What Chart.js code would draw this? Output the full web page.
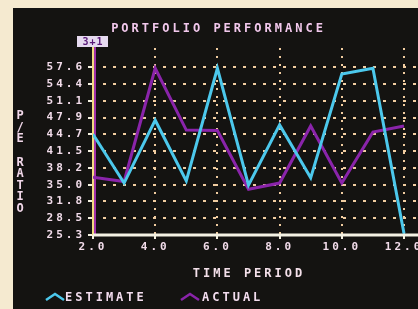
<!DOCTYPE html>
<html><head><meta charset="utf-8">
<script src="https://cdn.jsdelivr.net/npm/chart.js@4"></script>
<style>html,body{margin:0;padding:0;background:#f5ead0;overflow:hidden}canvas{display:block}</style>
</head><body><canvas id="c" width="418" height="309"></canvas>
<script>
const periods = [2, 3, 4, 5, 6, 7, 8, 9, 10, 11, 12];
const estimate = [44.7, 35.3, 47.4, 35.7, 57.4, 34.9, 46.5, 36.3, 56.3, 57.4, 25.6];
const actual = [36.4, 35.6, 57.4, 45.5, 45.4, 34.1, 35.3, 46.3, 35.3, 45.1, 46.3];
const xTickValues = [2, 4, 6, 8, 10, 12];
const xTickLabels = ['2.0', '4.0', '6.0', '8.0', '10.0', '12.0'];
const yTickValues = [25.3, 28.53, 31.76, 34.99, 38.22, 41.45, 44.68, 47.91, 51.14, 54.37, 57.6];
const yTickLabels = ['25.3', '28.5', '31.8', '35.0', '38.2', '41.5', '44.7', '47.9', '51.1', '54.4', '57.6'];
const seriesNames = ['ESTIMATE', 'ACTUAL'];
const seriesColors = ['#4cc8ec', '#8a24aa'];
const chartTitle = 'PORTFOLIO PERFORMANCE';
const xTitle = 'TIME PERIOD';
const yTitle = 'P/E RATIO';
const cursorLabel = '3+1';

const FONT = 'DejaVu Sans Mono';
Chart.defaults.font.family = FONT;
Chart.defaults.font.weight = 'bold';

const screenPlugin = {
  id: 'screen',
  beforeDraw(chart) {
    const ctx = chart.ctx;
    ctx.save();
    ctx.fillStyle = '#f5ead0';
    ctx.fillRect(0, 0, chart.width, chart.height);
    ctx.fillStyle = '#141311';
    ctx.fillRect(13, 8, chart.width - 13, chart.height - 8);
    ctx.restore();
    ctx.letterSpacing = '3px';
  },
  beforeDatasetsDraw(chart) {
    const ctx = chart.ctx;
    const a = chart.chartArea;
    ctx.save();
    ctx.lineWidth = 2;
    ctx.strokeStyle = '#a030a8';
    ctx.beginPath(); ctx.moveTo(a.left + 2, a.top - 10); ctx.lineTo(a.left + 2, a.bottom); ctx.stroke();
    ctx.strokeStyle = '#f0dc80';
    ctx.beginPath(); ctx.moveTo(a.left, a.top - 10); ctx.lineTo(a.left, a.bottom); ctx.stroke();
    ctx.lineWidth = 3;
    ctx.strokeStyle = '#f4f2e4';
    ctx.beginPath(); ctx.moveTo(a.left, a.bottom); ctx.lineTo(a.right, a.bottom); ctx.stroke();
    ctx.restore();
  },
  afterDraw(chart) {
    const ctx = chart.ctx;
    const a = chart.chartArea;
    ctx.save();
    ctx.fillStyle = '#e6daf0';
    ctx.fillRect(a.left - 16, a.top - 12, 31, 11);
    ctx.letterSpacing = '1px';
    ctx.fillStyle = '#5a1a78';
    ctx.font = 'bold 10px ' + FONT;
    ctx.textAlign = 'center';
    ctx.textBaseline = 'middle';
    ctx.fillText(cursorLabel, a.left, a.top - 6);
    ctx.letterSpacing = '0px';
    ctx.fillStyle = '#f2d8ea';
    ctx.font = 'bold 12px ' + FONT;
    yTitle.split('').forEach((ch, i) => ctx.fillText(ch, 20, 116 + i * 11.6));
    ctx.letterSpacing = '3px';
    ctx.font = 'bold 12px ' + FONT;
    ctx.fillStyle = '#f4e0ea';
    ctx.fillText(xTitle, 249, 274);
    const items = [{sx: 46, tx: 65}, {sx: 181, tx: 202}];
    chart.data.datasets.forEach((ds, i) => {
      const it = items[i];
      ctx.strokeStyle = ds.borderColor;
      ctx.lineWidth = 2.5;
      ctx.beginPath();
      ctx.moveTo(it.sx, 300); ctx.lineTo(it.sx + 9, 294); ctx.lineTo(it.sx + 18, 300);
      ctx.stroke();
      ctx.textAlign = 'left';
      ctx.fillStyle = '#f2dcee';
      ctx.fillText(ds.label, it.tx, 298);
    });
    ctx.restore();
  }
};

new Chart(document.getElementById('c'), {
  type: 'line',
  data: {
    datasets: [
      { label: seriesNames[0], data: periods.map((p, i) => ({x: p, y: estimate[i]})), borderColor: seriesColors[0], borderWidth: 3, pointRadius: 0, tension: 0 },
      { label: seriesNames[1], data: periods.map((p, i) => ({x: p, y: actual[i]})), borderColor: seriesColors[1], borderWidth: 3, pointRadius: 0, tension: 0 }
    ]
  },
  options: {
    responsive: false,
    animation: false,
    events: [],
    layout: { padding: { left: 19, top: 0, right: 0, bottom: 0 } },
    plugins: {
      legend: { display: false },
      tooltip: { enabled: false },
      title: {
        display: true, text: chartTitle, color: '#f2c8ec',
        font: { size: 12, weight: 'bold', family: FONT, lineHeight: 1.2 },
        padding: { top: 22, bottom: 11.6 }
      }
    },
    scales: {
      x: {
        type: 'linear', min: 2, max: 12.45,
        afterBuildTicks: s => { s.ticks = xTickValues.map(v => ({value: v})); },
        afterFit: s => { s.height = 74; s.paddingLeft = 0; s.paddingRight = 0; },
        ticks: {
          autoSkip: false, maxRotation: 0, padding: 2, color: '#f2dcea',
          font: { size: 11, weight: 'bold', family: FONT },
          callback: (v, i) => xTickLabels[i]
        },
        grid: { color: '#f0cca0', lineWidth: 2, drawTicks: true, tickLength: 4, tickColor: '#f4f0e0', tickWidth: 2 },
        border: { display: false, dash: [2, 6] }
      },
      y: {
        type: 'linear', min: 25.3, max: 61.3,
        afterBuildTicks: s => { s.ticks = yTickValues.map(v => ({value: v})); },
        afterFit: s => { s.width = 74; s.paddingTop = 0; s.paddingBottom = 0; },
        ticks: {
          autoSkip: false, padding: 3, color: '#f2dcea',
          font: { size: 11, weight: 'bold', family: FONT },
          callback: (v, i) => yTickLabels[i]
        },
        grid: { color: '#f0cca0', lineWidth: 2, drawTicks: true, tickLength: 5, tickColor: '#f4f0e0', tickWidth: 2 },
        border: { display: false, dash: [3, 7] }
      }
    }
  },
  plugins: [screenPlugin]
});
</script>
</body></html>
